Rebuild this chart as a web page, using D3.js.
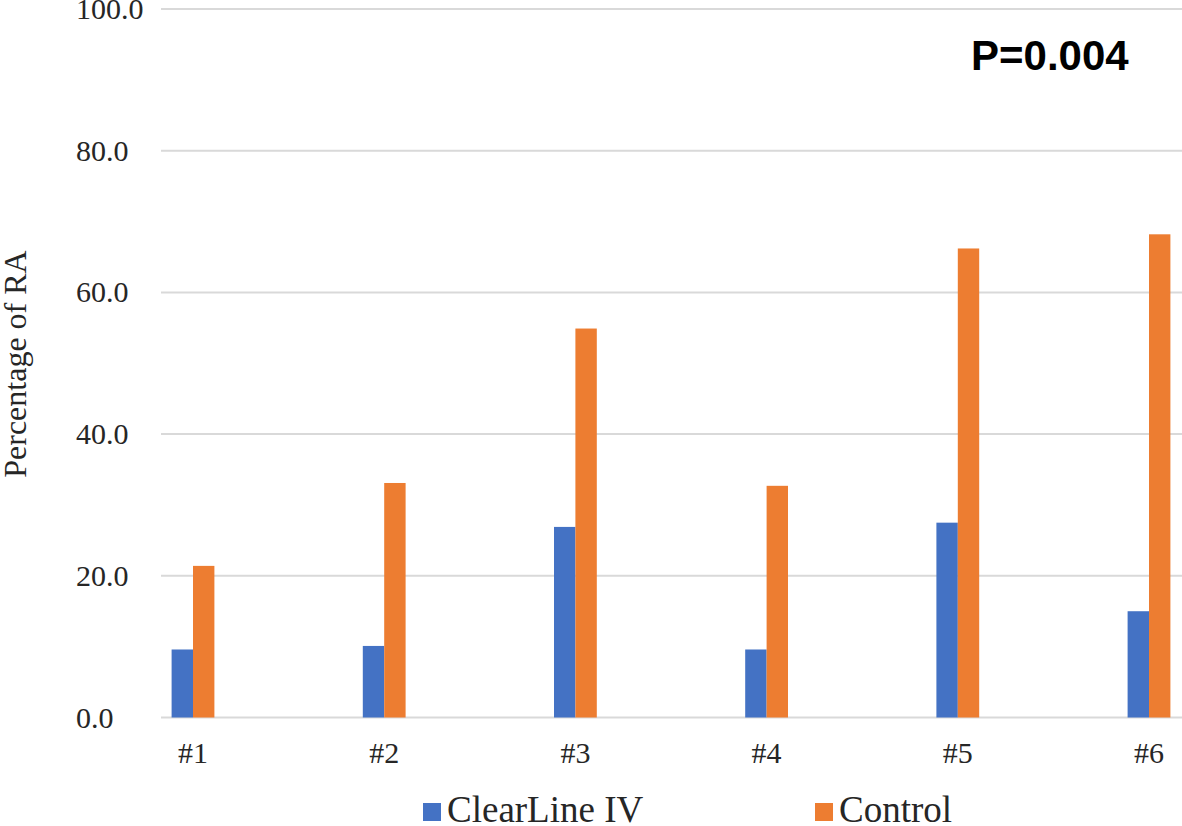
<!DOCTYPE html>
<html><head><meta charset="utf-8">
<script src="https://cdn.jsdelivr.net/npm/d3@7"></script>
<style>body{margin:0;background:#fff}svg{display:block}</style>
</head><body>
<svg id="c" width="1182" height="826"></svg>
<script>
const categories = ["#1","#2","#3","#4","#5","#6"];
const seriesNames = ["ClearLine IV","Control"];
const clearLine = [9.6, 10.1, 26.9, 9.6, 27.5, 15.0];
const control = [21.4, 33.1, 54.9, 32.7, 66.2, 68.2];
const yTicks = [0, 20, 40, 60, 80, 100];
const colors = ["#4472C4", "#ED7D31"];

const svg = d3.select("#c");
const y = d3.scaleLinear().domain([0, 100]).range([717.5, 9]);
const x = d3.scalePoint().domain(categories).range([193, 1149]);
const x1 = d3.scaleBand().domain(seriesNames).range([-21.4, 21.4]);
const serif = "'Liberation Serif','Times New Roman',serif";

// gridlines
svg.append("g").selectAll("line").data(yTicks).join("line")
  .attr("x1", 161).attr("x2", 1182)
  .attr("y1", d => y(d)).attr("y2", d => y(d))
  .attr("stroke", "#d9d9d9").attr("stroke-width", 2);

// y tick labels
svg.append("g").selectAll("text").data(yTicks).join("text")
  .attr("x", 76).attr("y", d => y(d) + 10)
  .attr("font-family", serif).attr("font-size", 30).attr("fill", "#262626")
  .text(d => d.toFixed(1));

// bars
const data = categories.map((c, i) => ({c, vals: [clearLine[i], control[i]]}));
const g = svg.append("g");
data.forEach(d => {
  seriesNames.forEach((s, j) => {
    g.append("rect")
      .attr("x", x(d.c) + x1(s)).attr("width", x1.bandwidth())
      .attr("y", y(d.vals[j])).attr("height", y(0) - y(d.vals[j]))
      .attr("fill", colors[j]);
  });
});

// x labels
svg.append("g").selectAll("text").data(categories).join("text")
  .attr("x", d => x(d)).attr("y", 763).attr("text-anchor", "middle")
  .attr("font-family", serif).attr("font-size", 30).attr("fill", "#262626")
  .text(d => d);

// y axis title
svg.append("text")
  .attr("transform", "translate(26,364) rotate(-90)")
  .attr("text-anchor", "middle")
  .attr("font-family", serif).attr("font-size", 32).attr("fill", "#262626")
  .text("Percentage of RA");

// P value
svg.append("text").attr("x", 971).attr("y", 70)
  .attr("font-family", "'Liberation Sans',Arial,sans-serif").attr("font-weight", "bold")
  .attr("font-size", 42).attr("fill", "#000").text("P=0.004");

// legend
const legX = [423, 815];
const lg = svg.append("g");
seriesNames.forEach((s, j) => {
  lg.append("rect").attr("x", legX[j]).attr("y", 803).attr("width", 18).attr("height", 18).attr("fill", colors[j]);
  lg.append("text").attr("x", legX[j] + 24).attr("y", 822)
    .attr("font-family", serif).attr("font-size", 37).attr("fill", "#262626").text(s);
});
</script>
</body></html>
